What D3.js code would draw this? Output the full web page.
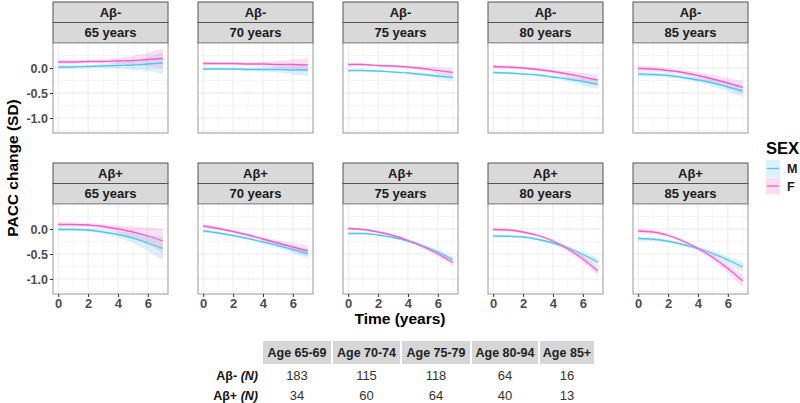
<!DOCTYPE html>
<html><head><meta charset="utf-8">
<script src="https://cdn.jsdelivr.net/npm/d3@7"></script>
<style>body{margin:0;background:#fff}svg{display:block;font-family:"Liberation Sans",Arial,sans-serif}</style>
</head><body><svg id="c" width="800" height="403"></svg>
<script>
// ---------- data ----------
const time = [0,1,2,3,4,5,6,7];
const amyloidGroups = ["Aβ-","Aβ+"];
const ageLabels = ["65 years","70 years","75 years","80 years","85 years"];
const sexLevels = ["M","F"];
const yTicks = [0, -0.5, -1.0];
const xTicks = [0, 2, 4, 6];

// Aβ- : fitted PACC change by panel (65..85), per time point
const negF = [
  [0.12,0.12,0.13,0.13,0.14,0.15,0.17,0.19],
  [0.09,0.09,0.09,0.08,0.08,0.07,0.07,0.06],
  [0.07,0.07,0.05,0.04,0.02,-0.01,-0.05,-0.09],
  [0.03,0.02,0.00,-0.03,-0.07,-0.12,-0.18,-0.24],
  [-0.01,-0.02,-0.05,-0.09,-0.15,-0.22,-0.30,-0.39]
];
const negM = [
  [0.02,0.02,0.03,0.04,0.05,0.06,0.08,0.10],
  [-0.02,-0.02,-0.02,-0.03,-0.03,-0.03,-0.04,-0.04],
  [-0.05,-0.05,-0.06,-0.08,-0.10,-0.13,-0.16,-0.19],
  [-0.09,-0.10,-0.12,-0.14,-0.18,-0.22,-0.27,-0.33],
  [-0.12,-0.13,-0.15,-0.19,-0.24,-0.30,-0.38,-0.46]
];
// Aβ+
const posF = [
  [0.09,0.09,0.08,0.05,0.00,-0.06,-0.14,-0.24],
  [0.06,0.01,-0.05,-0.12,-0.20,-0.28,-0.36,-0.44],
  [0.01,-0.01,-0.06,-0.13,-0.23,-0.35,-0.50,-0.67],
  [-0.01,-0.02,-0.06,-0.13,-0.24,-0.40,-0.60,-0.84],
  [-0.04,-0.06,-0.13,-0.24,-0.39,-0.57,-0.79,-1.04]
];
const posM = [
  [-0.01,-0.01,-0.02,-0.06,-0.11,-0.18,-0.28,-0.39],
  [-0.04,-0.08,-0.13,-0.19,-0.26,-0.33,-0.41,-0.49],
  [-0.09,-0.09,-0.12,-0.17,-0.24,-0.34,-0.46,-0.61],
  [-0.14,-0.145,-0.16,-0.21,-0.28,-0.38,-0.51,-0.66],
  [-0.19,-0.205,-0.245,-0.31,-0.39,-0.49,-0.62,-0.76]
];
// confidence band half-widths
const negFci = [
  [0.05,0.04,0.035,0.04,0.06,0.09,0.14,0.20],
  [0.04,0.03,0.03,0.03,0.05,0.07,0.10,0.14],
  [0.03,0.025,0.02,0.025,0.03,0.04,0.06,0.08],
  [0.04,0.035,0.03,0.035,0.04,0.06,0.08,0.10],
  [0.06,0.05,0.05,0.05,0.06,0.08,0.10,0.13]
];
const negMci = [
  [0.04,0.035,0.03,0.035,0.06,0.09,0.14,0.22],
  [0.03,0.025,0.025,0.03,0.04,0.06,0.09,0.12],
  [0.025,0.02,0.02,0.02,0.025,0.035,0.05,0.07],
  [0.03,0.025,0.025,0.03,0.035,0.05,0.07,0.09],
  [0.05,0.04,0.04,0.04,0.05,0.07,0.09,0.12]
];
const posFci = [
  [0.05,0.04,0.04,0.05,0.07,0.11,0.17,0.24],
  [0.04,0.035,0.03,0.03,0.04,0.06,0.08,0.11],
  [0.03,0.025,0.025,0.025,0.03,0.04,0.05,0.07],
  [0.04,0.035,0.03,0.03,0.035,0.05,0.07,0.09],
  [0.05,0.04,0.035,0.035,0.04,0.06,0.09,0.13]
];
const posMci = [
  [0.04,0.035,0.035,0.04,0.06,0.10,0.16,0.24],
  [0.035,0.03,0.025,0.025,0.035,0.05,0.07,0.10],
  [0.025,0.02,0.02,0.02,0.025,0.035,0.045,0.06],
  [0.03,0.025,0.025,0.025,0.03,0.04,0.06,0.08],
  [0.04,0.035,0.03,0.03,0.04,0.05,0.07,0.10]
];

// table
const tableHeaders = ["Age 65-69","Age 70-74","Age 75-79","Age 80-94","Age 85+"];
const tableRowLabels = ["Aβ-","Aβ+"];
const negN = [183,115,118,64,16];
const posN = [34,60,64,40,13];

// ---------- layout ----------
const colors = {M:"#55C6F0", F:"#F15FC8"};
const svg = d3.select("#c");
const pLeft = 53, pStep = 145, pW = 115, pH = 90, stripH = 20.5;
const rowTop = [2, 163];

const x = d3.scaleLinear().domain([-0.35, 7.35]).range([0, pW]);
const y = d3.scaleLinear().domain([-1.3, 0.5]).range([pH, 0]);

const means = [[negM, negF],[posM, posF]];
const cis = [[negMci, negFci],[posMci, posFci]];

const area = d3.area().x((d,i)=>x(time[i])).y0(d=>y(d[0]-d[1])).y1(d=>y(d[0]+d[1])).curve(d3.curveMonotoneX);
const line = d3.line().x((d,i)=>x(time[i])).y(d=>y(d)).curve(d3.curveMonotoneX);

amyloidGroups.forEach((grp, r) => {
  ageLabels.forEach((age, c) => {
    const gx = pLeft + c*pStep;
    const top = rowTop[r];
    const g = svg.append("g").attr("transform", `translate(${gx},${top})`);
    // strips
    [grp, age].forEach((lab, k) => {
      g.append("rect").attr("x",0).attr("y",k*stripH).attr("width",pW).attr("height",stripH)
        .attr("fill","#d9d9d9").attr("stroke","#555").attr("stroke-width",1);
      g.append("text").attr("x",pW/2).attr("y",k*stripH+stripH/2+4.5).attr("text-anchor","middle")
        .attr("font-size",13).attr("font-weight","bold").attr("fill","#1a1a1a").text(lab);
    });
    const p = g.append("g").attr("transform",`translate(0,${2*stripH})`);
    p.append("rect").attr("width",pW).attr("height",pH).attr("fill","#fff");
    // minor grid
    const minorX = [1,3,5,7], minorY = [0.25,-0.25,-0.75,-1.25];
    p.selectAll(".mx").data(minorX).join("line").attr("x1",d=>x(d)).attr("x2",d=>x(d)).attr("y1",0).attr("y2",pH)
      .attr("stroke","#f2f2f2").attr("stroke-width",0.7);
    p.selectAll(".my").data(minorY).join("line").attr("y1",d=>y(d)).attr("y2",d=>y(d)).attr("x1",0).attr("x2",pW)
      .attr("stroke","#f2f2f2").attr("stroke-width",0.7);
    p.selectAll(".gx").data(xTicks).join("line").attr("x1",d=>x(d)).attr("x2",d=>x(d)).attr("y1",0).attr("y2",pH)
      .attr("stroke","#ebebeb").attr("stroke-width",1);
    p.selectAll(".gy").data(yTicks).join("line").attr("y1",d=>y(d)).attr("y2",d=>y(d)).attr("x1",0).attr("x2",pW)
      .attr("stroke","#ebebeb").attr("stroke-width",1);
    // ribbons
    sexLevels.forEach((s, si) => {
      const pts = means[r][si][c].map((v,i)=>[v, cis[r][si][c][i]]);
      p.append("path").attr("d", area(pts)).attr("fill", colors[s]).attr("fill-opacity", si===0?0.22:0.2);
    });
    sexLevels.forEach((s, si) => {
      p.append("path").attr("d", line(means[r][si][c])).attr("fill","none").attr("stroke",colors[s]).attr("stroke-width",1.3);
    });
    p.append("rect").attr("width",pW).attr("height",pH).attr("fill","none").attr("stroke","#9a9a9a").attr("stroke-width",1);
    // y axis on first column
    if (c === 0) {
      const ya = p.append("g").call(d3.axisLeft(y).tickValues(yTicks).tickSize(3).tickFormat(d=>d.toFixed(1)));
      ya.select(".domain").remove();
      ya.selectAll("line").attr("stroke","#333");
      ya.selectAll("text").attr("font-size",12.5).attr("font-weight","bold").attr("fill","#4d4d4d")
        .attr("font-family","Liberation Sans, Arial, sans-serif").attr("x",-5);
    }
    if (r === 1) {
      const xa = p.append("g").attr("transform",`translate(0,${pH})`)
        .call(d3.axisBottom(x).tickValues(xTicks).tickSize(3).tickFormat(d3.format("d")));
      xa.select(".domain").remove();
      xa.selectAll("line").attr("stroke","#333");
      xa.selectAll("text").attr("font-size",13).attr("font-weight","bold").attr("fill","#4d4d4d")
        .attr("font-family","Liberation Sans, Arial, sans-serif").attr("y",5);
    }
  });
});

// axis titles
svg.append("text").attr("transform","translate(18,168) rotate(-90)").attr("text-anchor","middle")
  .attr("font-size",15.5).attr("font-weight","bold").attr("fill","#000").text("PACC change (SD)");
svg.append("text").attr("x",400).attr("y",324).attr("text-anchor","middle")
  .attr("font-size",15.5).attr("font-weight","bold").attr("fill","#000").text("Time (years)");

// legend
const lg = svg.append("g").attr("transform","translate(766,140)");
lg.append("text").attr("x",0).attr("y",14).attr("font-size",16.5).attr("font-weight","bold").text("SEX");
sexLevels.forEach((s,i)=>{
  const ky = 20 + i*17.5;
  lg.append("rect").attr("x",0).attr("y",ky).attr("width",14).attr("height",17).attr("fill",colors[s]).attr("fill-opacity",0.22);
  lg.append("line").attr("x1",1).attr("x2",13).attr("y1",ky+8.5).attr("y2",ky+8.5).attr("stroke",colors[s]).attr("stroke-width",1.3);
  lg.append("text").attr("x",21).attr("y",ky+13).attr("font-size",12.5).attr("font-weight","bold").attr("fill","#1a1a1a").text(s);
});

// table
const colX = [263,333,402,472,540], colW = [68,67,68,66,54];
const tb = svg.append("g");
tableHeaders.forEach((h,i)=>{
  tb.append("rect").attr("x",colX[i]).attr("y",341).attr("width",colW[i]).attr("height",23).attr("fill","#d6d6d6");
  tb.append("text").attr("x",colX[i]+colW[i]/2).attr("y",357).attr("text-anchor","middle")
    .attr("font-size",12.5).attr("font-weight","bold").attr("fill","#222").text(h);
});
[negN,posN].forEach((row,ri)=>{
  const ty = 380 + ri*19.5;
  const lab = tb.append("text").attr("x",258).attr("y",ty).attr("text-anchor","end")
    .attr("font-size",12.5).attr("font-weight","bold").attr("fill","#111");
  lab.append("tspan").text(tableRowLabels[ri]+" ");
  lab.append("tspan").attr("font-style","italic").text("(N)");
  row.forEach((v,i)=>{
    tb.append("text").attr("x",colX[i]+colW[i]/2).attr("y",ty).attr("text-anchor","middle")
      .attr("font-size",13).attr("fill","#333").text(v);
  });
});
</script></body></html>
